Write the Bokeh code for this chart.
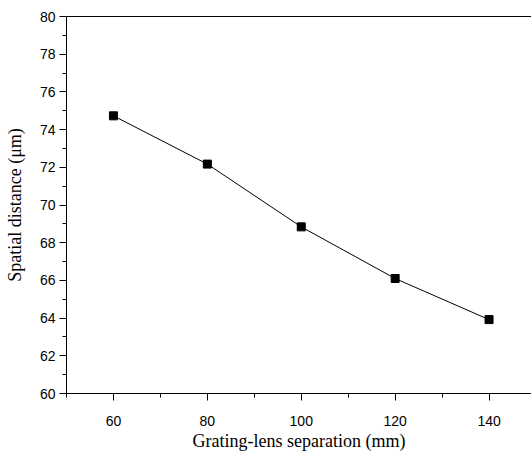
from bokeh.plotting import figure
from bokeh.models import LinearAxis, FixedTicker, Range1d
from bokeh.embed import file_html
from bokeh.resources import INLINE

separation_mm = [60, 80, 100, 120, 140]
spatial_distance_um = [74.73, 72.17, 68.84, 66.10, 63.92]

x_major = [60, 80, 100, 120, 140]
x_minor = [50, 70, 90, 110, 130, 150]
y_major = [60, 62, 64, 66, 68, 70, 72, 74, 76, 78, 80]
y_minor = [61, 63, 65, 67, 69, 71, 73, 75, 77, 79]

p = figure(width=531, height=453, output_backend="svg", toolbar_location=None,
           x_range=Range1d(50, 149.04), y_range=Range1d(60, 80),
           min_border_left=66, min_border_top=16, min_border_right=0,
           min_border_bottom=59)
p.outline_line_color = None
p.grid.visible = False
p.background_fill_color = "white"
p.border_fill_color = "white"

p.line(separation_mm, spatial_distance_um, line_color="black", line_width=1)
p.scatter(separation_mm, spatial_distance_um, marker="square", size=8,
          fill_color="black", line_color="black")

xa = p.xaxis[0]
xa.ticker = FixedTicker(ticks=x_major, minor_ticks=x_minor)
xa.axis_label = "Grating-lens separation (mm)"
ya = p.yaxis[0]
ya.ticker = FixedTicker(ticks=y_major, minor_ticks=y_minor)
ya.axis_label = "Spatial distance (\u03bcm)"

for ax, s1, s2 in ((xa, 15, 2), (ya, 4, 12)):
    ax.axis_line_color = "black"
    ax.axis_line_width = 1
    ax.major_tick_line_color = "black"
    ax.minor_tick_line_color = "black"
    ax.major_tick_out = 7
    ax.major_tick_in = 0
    ax.minor_tick_out = 4
    ax.minor_tick_in = 0
    ax.major_label_text_font = "Liberation Sans"
    ax.major_label_text_font_size = "14px"
    ax.major_label_text_color = "black"
    ax.major_label_standoff = s1
    ax.axis_label_text_font = "Liberation Serif"
    ax.axis_label_text_font_size = "18px"
    ax.axis_label_text_font_style = "normal"
    ax.axis_label_text_color = "black"
    ax.axis_label_standoff = s2

top = LinearAxis(ticker=FixedTicker(ticks=[], minor_ticks=[]),
                 major_label_text_font_size="0px",
                 major_tick_out=0, minor_tick_out=0,
                 axis_line_color="black", axis_line_width=1)
p.add_layout(top, "above")

open("out.html", "w").write(file_html(p, INLINE))
